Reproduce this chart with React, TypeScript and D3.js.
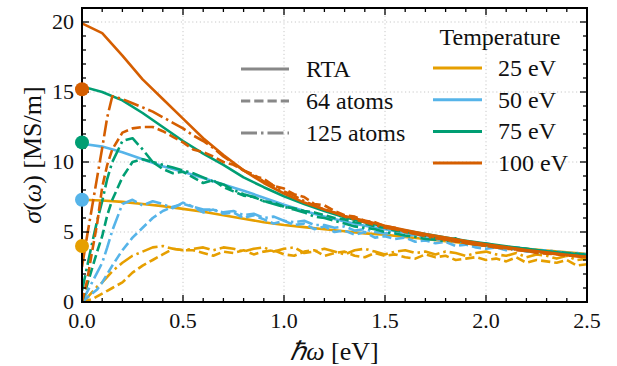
import React, { useEffect, useRef } from "react";
import * as d3 from "d3";

// ---------- data ----------
const temperatures = ["25 eV", "50 eV", "75 eV", "100 eV"];
const colors = ["#E69F00", "#56B4E9", "#009E73", "#D55E00"];

const omegaRTA = [0, 0.1, 0.2, 0.3, 0.4, 0.5, 0.6, 0.7, 0.8, 0.9, 1.0, 1.1, 1.2, 1.3, 1.4, 1.5, 1.6, 1.7, 1.8, 1.9, 2.0, 2.1, 2.2, 2.3, 2.4, 2.5];
const rta25 = [7.3, 7.25, 7.15, 7.0, 6.85, 6.65, 6.45, 6.2, 5.95, 5.7, 5.5, 5.35, 5.2, 5.05, 4.9, 4.8, 4.65, 4.5, 4.35, 4.2, 4.05, 3.92, 3.8, 3.67, 3.55, 3.42];
const rta50 = [11.3, 11.1, 10.7, 10.2, 9.7, 9.3, 8.85, 8.4, 7.95, 7.45, 6.95, 6.5, 6.1, 5.75, 5.45, 5.2, 4.95, 4.7, 4.5, 4.3, 4.1, 3.93, 3.77, 3.6, 3.45, 3.3];
const rta75 = [15.4, 15.0, 14.4, 13.5, 12.5, 11.5, 10.6, 9.8, 8.9, 8.2, 7.55, 7.0, 6.5, 6.05, 5.7, 5.4, 5.1, 4.85, 4.6, 4.38, 4.18, 3.98, 3.8, 3.63, 3.48, 3.35];
const rta100 = [19.9, 19.2, 17.6, 15.9, 14.5, 13.1, 11.7, 10.5, 9.4, 8.5, 7.75, 7.1, 6.6, 6.15, 5.8, 5.45, 5.15, 4.85, 4.6, 4.35, 4.12, 3.92, 3.72, 3.55, 3.38, 3.22];

const omegaSim = [0, 0.025, 0.05, 0.075, 0.1, 0.125, 0.15, 0.2, 0.25, 0.3, 0.35, 0.4, 0.45, 0.5, 0.55, 0.6, 0.65, 0.7, 0.75, 0.8, 0.85, 0.9, 0.95, 1.0, 1.05, 1.1, 1.15, 1.2, 1.25, 1.3, 1.35, 1.4, 1.45, 1.5, 1.55, 1.6, 1.65, 1.7, 1.75, 1.8, 1.85, 1.9, 1.95, 2.0, 2.05, 2.1, 2.15, 2.2, 2.25, 2.3, 2.35, 2.4, 2.45, 2.5];

const atoms64_25 = [0, 0.1, 0.2, 0.4, 0.6, 0.8, 1.0, 1.4, 2.1, 2.6, 3.0, 3.4, 3.8, 3.7, 3.7, 3.5, 3.3, 3.6, 3.5, 3.7, 3.4, 3.6, 3.7, 3.4, 3.3, 3.6, 3.7, 3.3, 3.5, 3.6, 3.3, 3.2, 3.5, 3.3, 3.4, 3.2, 3.1, 3.4, 3.2, 3.3, 3.0, 3.1, 3.2, 3.0, 3.1, 2.9, 3.2, 2.8, 3.0, 2.9, 2.8, 3.0, 2.6, 2.7];
const atoms125_25 = [0, 0.3, 0.7, 1.1, 1.4, 1.8, 2.2, 2.8, 3.3, 3.6, 3.9, 4.0, 3.8, 3.7, 3.8, 3.9, 3.7, 3.9, 3.8, 3.6, 3.8, 3.9, 3.6, 3.8, 3.9, 3.5, 3.6, 3.8, 3.6, 3.4, 3.7, 3.8, 3.6, 3.4, 3.6, 3.7, 3.5, 3.6, 3.4, 3.6, 3.5, 3.3, 3.5, 3.6, 3.4, 3.3, 3.5, 3.2, 3.4, 3.3, 3.1, 3.3, 3.0, 3.1];
const atoms64_50 = [0, 0.3, 0.6, 0.9, 1.4, 2.0, 2.6, 3.7, 4.6, 5.3, 6.0, 6.5, 6.8, 7.0, 6.8, 6.4, 6.6, 6.3, 6.4, 6.0, 6.2, 5.9, 5.6, 5.8, 5.5, 5.6, 5.2, 5.4, 5.0, 5.1, 4.8, 5.0, 4.6, 4.7, 4.5, 4.6, 4.3, 4.4, 4.2, 4.3, 4.0, 4.1, 3.9, 3.8, 3.9, 3.7, 3.8, 3.6, 3.6, 3.5, 3.45, 3.4, 3.3, 3.3];
const atoms125_50 = [0, 0.7, 1.4, 2.1, 2.8, 3.9, 5.1, 7.0, 7.3, 6.9, 7.2, 7.0, 6.7, 7.1, 6.8, 6.6, 6.6, 6.4, 6.5, 6.2, 6.3, 6.0, 6.1, 5.8, 5.7, 5.8, 5.5, 5.5, 5.3, 5.4, 5.1, 5.2, 5.0, 4.9, 4.9, 4.7, 4.8, 4.5, 4.5, 4.4, 4.3, 4.3, 4.1, 4.2, 4.0, 3.9, 3.9, 3.8, 3.7, 3.7, 3.6, 3.5, 3.5, 3.4];
const atoms64_75 = [0, 1.2, 2.4, 3.6, 4.7, 6.2, 7.3, 8.9, 10.0, 10.2, 10.0, 9.5, 9.2, 9.3, 8.9, 8.5, 8.7, 8.2, 7.9, 7.6, 7.5, 7.2, 7.1, 6.8, 6.7, 6.5, 6.4, 6.2, 6.0, 5.9, 5.7, 5.6, 5.4, 5.3, 5.1, 5.0, 4.9, 4.7, 4.6, 4.5, 4.4, 4.3, 4.2, 4.1, 4.0, 3.95, 3.85, 3.8, 3.7, 3.6, 3.55, 3.5, 3.45, 3.4];
const atoms125_75 = [0.8, 2.5, 4.2, 5.8, 7.2, 8.8, 10.0, 11.5, 11.7, 10.9, 10.0, 9.8, 9.6, 9.4, 9.2, 8.9, 8.6, 8.4, 8.0, 7.7, 7.5, 7.2, 7.0, 6.8, 6.6, 6.4, 6.1, 6.0, 5.8, 5.6, 5.4, 5.3, 5.2, 5.0, 4.9, 4.75, 4.65, 4.5, 4.45, 4.35, 4.55, 4.2, 4.1, 4.05, 3.95, 3.9, 3.8, 3.75, 3.65, 3.6, 3.5, 3.45, 3.4, 3.35];
const atoms64_100 = [0, 1.5, 3.6, 5.6, 8.2, 9.8, 10.9, 12.1, 12.4, 12.5, 12.5, 12.2, 11.8, 11.4, 10.9, 10.7, 10.4, 10.0, 9.8, 9.4, 9.0, 8.8, 8.3, 8.1, 7.7, 7.5, 7.0, 6.9, 6.5, 6.2, 6.1, 5.8, 5.7, 5.4, 5.3, 5.0, 4.9, 4.8, 4.6, 4.5, 4.3, 4.3, 4.1, 4.0, 3.9, 3.85, 3.7, 3.65, 3.5, 3.45, 3.4, 3.3, 3.3, 3.2];
const atoms125_100 = [2.5, 4.7, 6.8, 8.9, 11.0, 13.2, 14.7, 14.5, 14.2, 13.9, 13.6, 13.2, 12.8, 12.4, 11.9, 11.5, 11.0, 10.4, 9.9, 9.4, 9.1, 8.6, 8.3, 7.9, 7.6, 7.2, 6.9, 6.6, 6.4, 6.1, 5.9, 5.7, 5.5, 5.3, 5.2, 5.0, 4.85, 4.7, 4.55, 4.45, 4.35, 4.2, 4.1, 4.0, 3.9, 3.8, 3.75, 3.65, 3.55, 3.5, 3.4, 3.35, 3.25, 3.2];

const dcValues = [4.0, 7.3, 11.4, 15.2];

const xTicks = [0, 0.5, 1.0, 1.5, 2.0, 2.5];
const yTicks = [0, 5, 10, 15, 20];
const styleLabels = ["RTA", "64 atoms", "125 atoms"];

// ---------- layout ----------
const FONT = "Liberation Serif";
const DASHED = "9.25,4";
const DASHDOT = "16,4,2.5,4";
const dashes = [null, DASHED, DASHDOT];

export default function App() {
  const ref = useRef<SVGSVGElement | null>(null);

  useEffect(() => {
    const svg = d3.select(ref.current);
    svg.selectAll("*").remove();

    const x = d3.scaleLinear().domain([0, 2.5]).range([82, 587]);
    const y = d3.scaleLinear().domain([0, 21]).range([302, 8]);
    const [x0, x1] = x.range();
    const [y0, y1] = y.range();

    svg.append("rect").attr("width", 617).attr("height", 366).attr("fill", "#fff");
    const defs = svg.append("defs");
    defs.append("clipPath").attr("id", "plotclip2")
      .append("rect").attr("x", x0).attr("y", y1).attr("width", x1 - x0).attr("height", y0 - y1);

    // grid
    const grid = svg.append("g").attr("stroke", "#c8c8c8").attr("stroke-width", 1).attr("stroke-dasharray", "1.2,2.6");
    xTicks.slice(1, -1).forEach((t) =>
      grid.append("line").attr("x1", x(t)).attr("x2", x(t)).attr("y1", y0).attr("y2", y1));
    yTicks.slice(1).forEach((t) =>
      grid.append("line").attr("x1", x0).attr("x2", x1).attr("y1", y(t)).attr("y2", y(t)));

    // data
    const mk = (xs: number[]) => d3.line<number>().x((_, i) => x(xs[i])).y((d) => y(d));
    const rtaLine = mk(omegaRTA);
    const simLine = mk(omegaSim);
    const rtaSets = [rta25, rta50, rta75, rta100];
    const s64 = [atoms64_25, atoms64_50, atoms64_75, atoms64_100];
    const s125 = [atoms125_25, atoms125_50, atoms125_75, atoms125_100];
    const dg = svg.append("g").attr("clip-path", "url(#plotclip2)").attr("fill", "none")
      .attr("stroke-width", 2.6).attr("stroke-linejoin", "round");
    temperatures.forEach((_, k) => {
      const g = dg.append("g").attr("stroke", colors[k]);
      g.append("path").attr("d", simLine(s64[k]) || "").attr("stroke-dasharray", DASHED);
      g.append("path").attr("d", simLine(s125[k]) || "").attr("stroke-dasharray", DASHDOT);
      g.append("path").attr("d", rtaLine(rtaSets[k]) || "");
    });

    // ticks
    const tg = svg.append("g").attr("stroke", "#000").attr("stroke-width", 1.3);
    d3.range(0, 26).forEach((i) => {
      const t = i / 10;
      const L = i % 5 === 0 ? 7 : 4;
      tg.append("line").attr("x1", x(t)).attr("x2", x(t)).attr("y1", y0).attr("y2", y0 - L);
      tg.append("line").attr("x1", x(t)).attr("x2", x(t)).attr("y1", y1).attr("y2", y1 + L);
    });
    d3.range(0, 22).forEach((t) => {
      const L = t % 5 === 0 ? 7 : 4;
      tg.append("line").attr("x1", x0).attr("x2", x0 + L).attr("y1", y(t)).attr("y2", y(t));
      tg.append("line").attr("x1", x1).attr("x2", x1 - L).attr("y1", y(t)).attr("y2", y(t));
    });

    svg.append("rect").attr("x", x0).attr("y", y1).attr("width", x1 - x0).attr("height", y0 - y1)
      .attr("fill", "none").attr("stroke", "#000").attr("stroke-width", 2);

    dcValues.forEach((v, k) =>
      svg.append("circle").attr("cx", x(0)).attr("cy", y(v)).attr("r", 7).attr("fill", colors[k]));

    const text = (px: number, py: number, size: number, anchor: string, s: string) =>
      svg.append("text").attr("x", px).attr("y", py).attr("text-anchor", anchor)
        .attr("font-family", FONT).attr("font-size", size).attr("fill", "#111")
        .style("font-family", FONT).style("font-size", size + "px").text(s);

    xTicks.forEach((t) => text(x(t), 328, 22, "middle", t.toFixed(1)));
    yTicks.forEach((t) => text(74, y(t) + 7, 22, "end", String(t)));

    const xl = text((x0 + x1) / 2, 360, 26, "middle", "");
    xl.append("tspan").attr("font-style", "italic").text("ℏω");
    xl.append("tspan").text(" [eV]");

    const yl = svg.append("text").attr("transform", `translate(41, ${(y0 + y1) / 2}) rotate(-90)`)
      .attr("text-anchor", "middle").attr("font-family", FONT).attr("font-size", 26).attr("fill", "#111")
      .style("font-family", FONT).style("font-size", "26px");
    yl.append("tspan").attr("font-style", "italic").text("σ");
    yl.append("tspan").text("(");
    yl.append("tspan").attr("font-style", "italic").text("ω");
    yl.append("tspan").text(") [MS/m]");

    styleLabels.forEach((s, i) => {
      const ly = 69 + i * 32;
      const ln = svg.append("line").attr("x1", 241).attr("x2", 289).attr("y1", ly).attr("y2", ly)
        .attr("stroke", "#888").attr("stroke-width", 3);
      if (dashes[i]) ln.attr("stroke-dasharray", dashes[i] as string);
      text(306, ly + 8, 24, "start", s);
    });
    text(500, 45, 24, "middle", "Temperature");
    temperatures.forEach((t, k) => {
      const ly = 68 + k * 31.7;
      svg.append("line").attr("x1", 433).attr("x2", 482).attr("y1", ly).attr("y2", ly)
        .attr("stroke", colors[k]).attr("stroke-width", 3);
      text(498, ly + 8, 24, "start", t);
    });
  }, []);

  return <svg ref={ref} width={617} height={366} style={{ position: "absolute", left: 0, top: 0 }} />;
}
